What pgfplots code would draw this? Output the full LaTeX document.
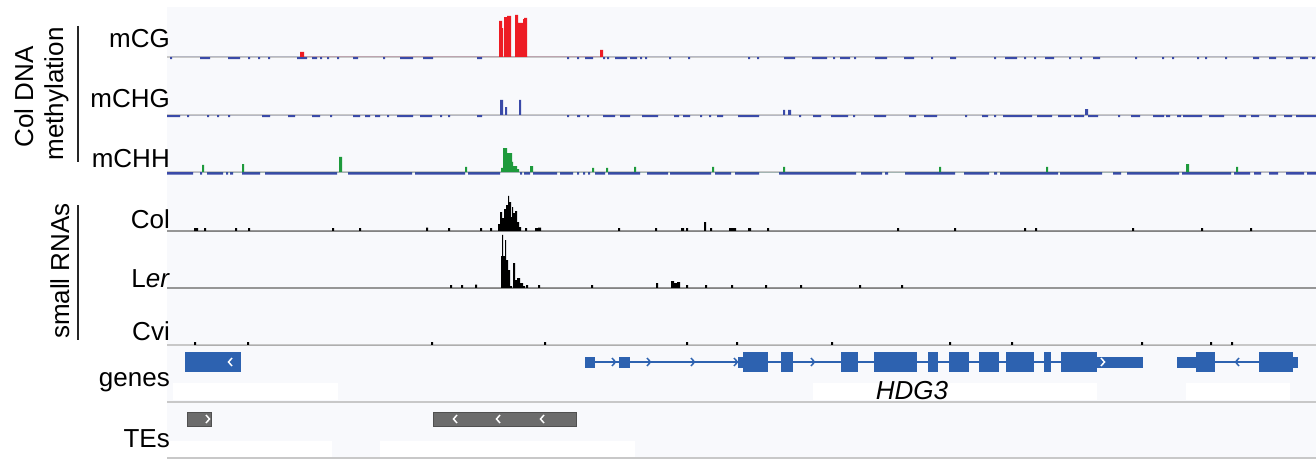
\documentclass[border=0pt]{standalone}
\usepackage{fontspec}
\setmainfont{Liberation Sans}
\usepackage{pgfplots}
\pgfplotsset{compat=1.18}
\definecolor{mblue}{RGB}{58,74,168}
\definecolor{mred}{RGB}{237,28,36}
\definecolor{mgreen}{RGB}{30,154,60}
\definecolor{gblue}{RGB}{45,98,176}
\definecolor{tegray}{RGB}{108,108,108}
\definecolor{tedark}{RGB}{80,80,80}
\definecolor{bg}{RGB}{248,249,252}
\definecolor{lgray}{RGB}{200,200,200}
\definecolor{dgray}{RGB}{150,150,150}
\pgfplotsset{
  trk/.style={width=1146pt, scale only axis, xmin=170, xmax=1316, hide axis, clip=false, anchor=south west},
  trkbar/.style={ybar interval, draw=none, fill=#1, mark=none},
}
\begin{document}
\begin{tikzpicture}[x=1pt,y=1pt]
\path[use as bounding box] (0,0) rectangle (1316,-460);
\fill[white] (0,0) rectangle (1316,-460);
\fill[bg] (167,-7) rectangle (1316,-458);
% label boxes of the annotation tracks
\fill[white] (173,-383) rectangle (338,-400);
\fill[white] (813,-383) rectangle (1097,-400);
\fill[white] (1186,-383) rectangle (1290,-400);
\fill[white] (167,-441) rectangle (332,-457);
\fill[white] (380,-441) rectangle (635,-457);
\draw[lgray, line width=1.2pt] (167,-402) -- (1316,-402);
\draw[lgray, line width=1.2pt] (167,-458) -- (1316,-458);

% track labels
\begin{scope}[font=\fontsize{26}{30}\selectfont]
\node[anchor=base east, inner sep=0pt] at (170,-48) {mCG};
\node[anchor=base east, inner sep=0pt] at (170,-107) {mCHG};
\node[anchor=base east, inner sep=0pt] at (170,-167) {mCHH};
\node[anchor=base east, inner sep=0pt] at (170,-228) {Col};
\node[anchor=base east, inner sep=0pt] at (170,-287) {L\textit{er}};
\node[anchor=base east, inner sep=0pt] at (170,-340) {Cvi};
\node[anchor=base east, inner sep=0pt] at (170,-386) {genes};
\node[anchor=base east, inner sep=0pt] at (170,-447) {TEs};
\node[rotate=90, anchor=base, inner sep=0pt] at (33,-97) {Col DNA};
\node[rotate=90, anchor=base, inner sep=0pt] at (63,-94) {methylation};
\node[rotate=90, anchor=base, inner sep=0pt] at (69,-271) {small RNAs};
\node[anchor=base, inner sep=0pt] at (912,-399) {\itshape HDG3};
\end{scope}
\draw[black!85, line width=1.1pt] (78,-26) -- (78,-162);
\draw[black!85, line width=1.1pt] (78,-205) -- (78,-340);

% mCG
\begin{axis}[trk, height=42pt, ymin=0, ymax=100, at={(170pt,-57pt)}]
\addplot[lgray, line width=2pt] coordinates {(167,0)(1316,0)};
\addplot[trkbar=mblue] coordinates {(170,-5)(172,0)(200,-5)(210,0)(228,-5)(240,0)(248,-5)(250,0)(258,-5)(260,0)(268,-5)(270,0)(297,-5)(307,0)(312,-5)(317,0)(320,-5)(322,0)(327,-5)(329,0)(337,-5)(339,0)(353,-5)(358,0)(383,-5)(385,0)(400,-5)(413,0)(423,-5)(433,0)(477,-5)(482,0)(567,-5)(569,0)(577,-5)(579,0)(585,-5)(593,0)(603,-5)(605,0)(607,-5)(609,0)(615,-5)(627,0)(630,-5)(637,0)(640,-5)(642,0)(645,-5)(647,0)(669,-5)(671,0)(688,-5)(690,0)(748,-5)(750,0)(757,-5)(759,0)(784,-5)(795,0)(812,-5)(827,0)(833,-5)(835,0)(840,-5)(850,0)(854,-5)(856,0)(875,-5)(887,0)(904,-5)(914,0)(931,-5)(933,0)(950,-5)(956,0)(994,-5)(996,0)(1005,-5)(1017,0)(1024,-5)(1026,0)(1034,-5)(1036,0)(1045,-5)(1054,0)(1069,-5)(1071,0)(1080,-5)(1082,0)(1093,-5)(1100,0)(1135,-5)(1137,0)(1162,-5)(1164,0)(1172,-5)(1174,0)(1197,-5)(1199,0)(1205,-5)(1207,0)(1225,-5)(1227,0)(1253,-5)(1259,0)(1269,-5)(1276,0)(1286,-5)(1293,0)(1300,-5)(1308,0)(1312,-5)(1315,0)};
\addplot[trkbar=mred] coordinates {(300,12)(304,0)(499,86)(502,69)(503,0)(504,95)(507,98)(511,0)(515,100)(518,81)(523,90)(524,93)(527,0)(600,17)(603,0)};
\end{axis}

% mCHG
\begin{axis}[trk, height=42pt, ymin=0, ymax=100, at={(170pt,-115pt)}]
\addplot[lgray, line width=2pt] coordinates {(167,0)(1316,0)};
\addplot[trkbar=mblue] coordinates {(167,-5)(180,0)(187,-5)(189,0)(207,-5)(209,0)(217,-5)(219,0)(228,-5)(230,0)(262,-5)(270,0)(288,-5)(295,0)(312,-5)(320,0)(330,-5)(332,0)(353,-5)(360,0)(365,-5)(370,0)(375,-5)(380,0)(387,-5)(389,0)(397,-5)(413,0)(420,-5)(432,0)(440,-5)(442,0)(448,-5)(450,0)(477,-5)(482,0)(500,36)(503,0)(505,19)(507,0)(519,36)(521,0)(567,-5)(569,0)(577,-5)(580,0)(587,-5)(589,0)(603,-5)(615,0)(620,-5)(630,0)(642,-5)(658,0)(674,-5)(679,0)(683,-5)(690,0)(700,-5)(702,0)(709,-5)(711,0)(717,-5)(723,0)(738,-5)(759,0)(783,12)(785,0)(788,12)(791,0)(799,-5)(801,0)(813,-5)(821,0)(831,-5)(848,0)(853,-5)(855,0)(874,-5)(886,0)(909,-5)(916,0)(924,-5)(937,0)(965,-5)(967,0)(982,-5)(988,0)(994,-5)(996,0)(1003,-5)(1032,0)(1037,-5)(1052,0)(1058,-5)(1071,0)(1074,-5)(1084,0)(1085,14)(1088,-5)(1098,0)(1118,-5)(1120,0)(1131,-5)(1140,0)(1153,-5)(1164,0)(1166,-5)(1170,0)(1177,-5)(1181,0)(1183,-5)(1202,0)(1209,-5)(1224,0)(1239,-5)(1246,0)(1251,-5)(1259,0)(1269,-5)(1276,0)(1284,-5)(1292,0)(1296,-5)(1316,0)};
\end{axis}

% mCHH
\begin{axis}[trk, height=42pt, ymin=0, ymax=100, at={(170pt,-172pt)}]
\addplot[lgray, line width=2pt] coordinates {(167,0)(1316,0)};
\addplot[trkbar=mblue] coordinates {(167,-6)(193,0)(200,-6)(202,0)(207,-6)(223,0)(226,-6)(228,0)(230,-6)(233,0)(242,-6)(260,0)(265,-6)(337,0)(348,-6)(412,0)(415,-6)(465,0)(468,-6)(500,0)(520,-6)(522,0)(524,-6)(530,0)(533,-6)(557,0)(560,-6)(573,0)(577,-6)(579,0)(583,-6)(585,0)(588,-6)(590,0)(595,-6)(605,0)(608,-6)(640,0)(647,-6)(668,0)(670,-6)(711,0)(715,-6)(731,0)(735,-6)(759,0)(779,-6)(856,0)(861,-6)(882,0)(885,-6)(888,0)(905,-6)(955,0)(964,-6)(989,0)(994,-6)(997,0)(1000,-6)(1058,0)(1060,-6)(1102,0)(1113,-6)(1121,0)(1127,-6)(1179,0)(1182,-6)(1231,0)(1234,-6)(1250,0)(1254,-6)(1261,0)(1269,-6)(1278,0)(1286,-6)(1304,0)(1307,-6)(1316,0)};
\addplot[trkbar=mgreen] coordinates {(202,17)(204,0)(242,19)(244,0)(339,36)(342,0)(465,12)(467,0)(501,10)(503,57)(507,45)(512,24)(513,14)(517,7)(519,0)(530,14)(533,0)(592,10)(594,0)(606,10)(608,0)(634,12)(636,0)(712,12)(714,0)(783,12)(785,0)(939,12)(941,0)(1046,12)(1048,0)(1186,19)(1189,0)(1236,12)(1238,0)};
\end{axis}

% small RNAs, Col
\begin{axis}[trk, height=45pt, ymin=0, ymax=45, at={(170pt,-231pt)}]
\addplot[dgray, line width=2pt] coordinates {(167,0)(1316,0)};
\addplot[trkbar=black] coordinates {(194,3)(198,0)(204,3)(206,0)(235,3)(237,0)(248,3)(250,0)(332,3)(334,0)(359,3)(361,0)(426,3.5)(428,0)(448,3)(450,0)(480,3)(482,0)(490,3)(492,0)(498,7)(500,19)(502,13)(504,22)(506,26)(508,35)(509,29)(511,14)(512,24)(513,18)(515,20)(517,9)(519,4)(521,0)(525,3)(527,0)(535,3)(538,3.5)(541,0)(618,3)(620,0)(655,3)(657,0)(681,3)(684,0)(686,3)(688,0)(704,9)(706,0)(710,3)(712,0)(729,3)(736,0)(748,3)(751,0)(767,3)(769,0)(897,3)(899,0)(954,3)(956,0)(1024,3)(1026,0)(1035,3)(1037,0)(1132,3)(1134,0)(1201,3)(1203,0)(1250,3)(1252,0)};
\end{axis}

% small RNAs, Ler
\begin{axis}[trk, height=53pt, ymin=0, ymax=53, at={(170pt,-288pt)}]
\addplot[dgray, line width=2pt] coordinates {(167,0)(1316,0)};
\addplot[trkbar=black] coordinates {(450,3)(452,0)(461,3)(463,0)(475,3.5)(477,0)(501,32)(502,53)(503,32)(505,48)(506,28)(508,18)(510,2)(512,0)(513,25)(515,8)(517,10)(520,5)(523,2)(525,0)(526,3)(528,0)(538,3)(540,0)(591,3)(593,0)(656,5)(658,0)(671,7)(674,5)(677,6)(680,0)(686,3)(688,0)(705,3)(707,0)(731,3)(733,0)(765,3)(767,0)(800,3)(802,0)(859,3)(861,0)(901,3)(903,0)};
\end{axis}

% small RNAs, Cvi
\begin{axis}[trk, height=50pt, ymin=0, ymax=50, at={(170pt,-345pt)}]
\addplot[lgray, line width=2pt] coordinates {(167,0)(1316,0)};
\addplot[trkbar=black] coordinates {(194,3)(196,0)(247,3)(249,0)(431,3)(433,0)(544,3)(546,0)(686,3)(688,0)(736,3)(738,0)(831,3)(833,0)(949,3)(951,0)(1011,3)(1013,0)(1141,3)(1143,0)(1210,3)(1212,0)(1231,3)(1233,0)};
\end{axis}

% genes
\begin{axis}[trk, height=20pt, ymin=-10, ymax=10, at={(170pt,-372pt)}, unbounded coords=jump]
\addplot[gblue, line width=1.5pt] coordinates {(590,0)(1100,0)(nan,nan)(1180,0)(1295,0)};
\addplot[gblue, line width=11pt] coordinates {(585,0)(595,0)(nan,nan)(619,0)(630,0)(nan,nan)(738,0)(744,0)(nan,nan)(1097,0)(1143,0)(nan,nan)(1177,0)(1196,0)(nan,nan)(1293,0)(1298,0)};
\addplot[gblue, line width=20pt] coordinates {(185,0)(241,0)(nan,nan)(743,0)(768,0)(nan,nan)(781,0)(793,0)(nan,nan)(841,0)(858,0)(nan,nan)(874,0)(917,0)(nan,nan)(928,0)(938,0)(nan,nan)(949,0)(969,0)(nan,nan)(979,0)(999,0)(nan,nan)(1006,0)(1034,0)(nan,nan)(1044,0)(1051,0)(nan,nan)(1061,0)(1097,0)(nan,nan)(1196,0)(1215,0)(nan,nan)(1259,0)(1293,0)};
\addplot[gblue, line width=1.5pt] coordinates {(612,4)(615.5,0)(612,-4)(nan,nan)(647,4)(650.5,0)(647,-4)(nan,nan)(691,4)(694.5,0)(691,-4)(nan,nan)(734,4)(737.5,0)(734,-4)(nan,nan)(811,4)(814.5,0)(811,-4)(nan,nan)(1239,4)(1235.5,0)(1239,-4)};
\addplot[white, line width=1.5pt] coordinates {(232,4)(228.5,0)(232,-4)(nan,nan)(1101,4)(1104.5,0)(1101,-4)};
\end{axis}

% TEs
\begin{axis}[trk, height=20pt, ymin=-10, ymax=10, at={(170pt,-429pt)}, unbounded coords=jump]
\addplot[tedark, line width=15pt] coordinates {(187,0)(212,0)(nan,nan)(433,0)(577,0)};
\addplot[tegray, line width=13pt] coordinates {(188,0)(211,0)(nan,nan)(434,0)(576,0)};
\addplot[white, line width=1.5pt] coordinates {(206,4)(209.5,0)(206,-4)(nan,nan)(457,4)(453.5,0)(457,-4)(nan,nan)(500,4)(496.5,0)(500,-4)(nan,nan)(544,4)(540.5,0)(544,-4)};
\end{axis}
\end{tikzpicture}
\end{document}
